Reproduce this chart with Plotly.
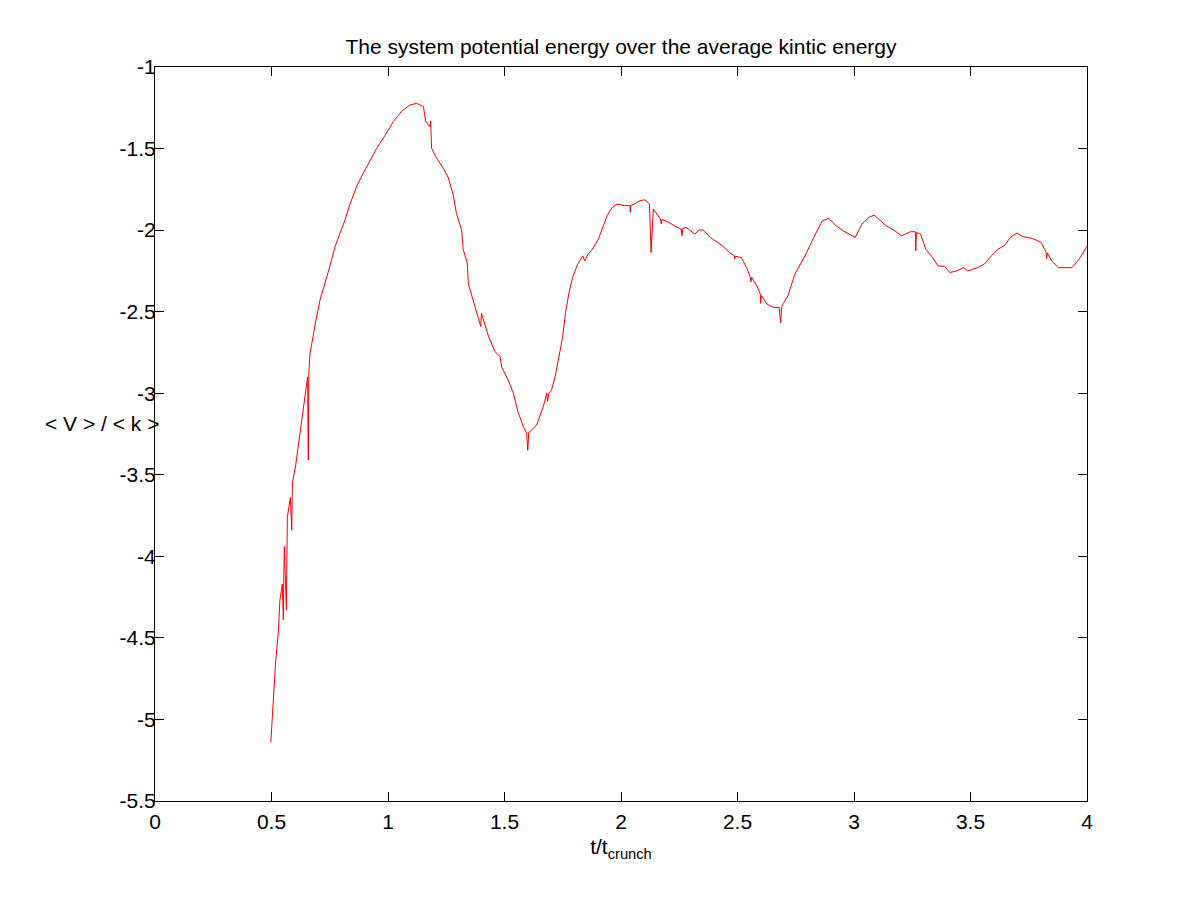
import plotly.graph_objects as go

# t / t_crunch
t = [0.497, 0.504, 0.512, 0.518, 0.529, 0.536, 0.546, 0.551, 0.553, 0.555,
     0.564, 0.566, 0.568, 0.581, 0.587, 0.589, 0.591, 0.604, 0.615, 0.625,
     0.637, 0.649, 0.655, 0.658, 0.660, 0.665, 0.677, 0.691, 0.708, 0.730,
     0.751, 0.773, 0.794, 0.815, 0.837, 0.866, 0.894, 0.923, 0.951, 0.987,
     1.023, 1.059, 1.094, 1.123, 1.152, 1.162, 1.180, 1.183, 1.187, 1.209,
     1.237, 1.259, 1.280, 1.294, 1.316, 1.323, 1.340, 1.345, 1.366, 1.388,
     1.398, 1.401, 1.431, 1.459, 1.481, 1.488, 1.516, 1.538, 1.559, 1.581,
     1.595, 1.600, 1.604, 1.609, 1.638, 1.667, 1.681, 1.685, 1.690, 1.702,
     1.717, 1.733, 1.749, 1.762, 1.777, 1.792, 1.814, 1.836, 1.844, 1.858,
     1.877, 1.903, 1.925, 1.940, 1.962, 1.984, 2.014, 2.039, 2.040, 2.041,
     2.058, 2.080, 2.102, 2.122, 2.129, 2.139, 2.169, 2.173, 2.176, 2.206,
     2.228, 2.258, 2.262, 2.265, 2.280, 2.317, 2.335, 2.354, 2.383, 2.406,
     2.435, 2.465, 2.487, 2.488, 2.490, 2.516, 2.539, 2.553, 2.558, 2.561,
     2.583, 2.598, 2.599, 2.602, 2.627, 2.657, 2.679, 2.685, 2.690, 2.694,
     2.716, 2.746, 2.790, 2.827, 2.864, 2.891, 2.923, 2.953, 2.982, 3.005,
     3.034, 3.064, 3.086, 3.116, 3.138, 3.175, 3.204, 3.241, 3.263, 3.265,
     3.268, 3.286, 3.308, 3.337, 3.360, 3.389, 3.411, 3.441, 3.470, 3.488,
     3.530, 3.559, 3.589, 3.618, 3.648, 3.670, 3.700, 3.722, 3.766, 3.803,
     3.825, 3.826, 3.830, 3.848, 3.877, 3.914, 3.936, 3.966, 4.003]

# < V > / < k >
ratio = [-5.14, -4.98, -4.80, -4.64, -4.47, -4.27, -4.17, -4.39, -4.10, -3.94,
         -4.33, -3.92, -3.76, -3.64, -3.84, -3.60, -3.54, -3.44, -3.32, -3.23,
         -3.08, -2.94, -2.90, -3.41, -2.88, -2.76, -2.65, -2.55, -2.43, -2.33,
         -2.22, -2.10, -2.02, -1.94, -1.84, -1.73, -1.65, -1.57, -1.50, -1.42,
         -1.335, -1.27, -1.233, -1.223, -1.243, -1.335, -1.366, -1.33, -1.498, -1.56,
         -1.62, -1.68, -1.785, -1.90, -2.00, -2.12, -2.20, -2.33, -2.43, -2.53,
         -2.59, -2.51, -2.65, -2.745, -2.776, -2.84, -2.92, -3.00, -3.12, -3.205,
         -3.245, -3.35, -3.24, -3.236, -3.195, -3.08, -3.00, -3.05, -3.00, -2.98,
         -2.90, -2.78, -2.66, -2.506, -2.383, -2.291, -2.209, -2.158, -2.189, -2.148,
         -2.117, -2.055, -1.973, -1.912, -1.861, -1.840, -1.850, -1.850, -1.891, -1.850,
         -1.840, -1.820, -1.814, -1.840, -2.137, -1.871, -1.932, -1.963, -1.935, -1.953,
         -1.973, -1.994, -2.035, -1.990, -1.984, -2.025, -1.998, -2.000, -2.045, -2.066,
         -2.096, -2.137, -2.158, -2.178, -2.160, -2.168, -2.230, -2.281, -2.318, -2.290,
         -2.342, -2.393, -2.449, -2.400, -2.455, -2.475, -2.475, -2.568, -2.470, -2.455,
         -2.404, -2.270, -2.158, -2.045, -1.943, -1.928, -1.973, -2.004, -2.025, -2.045,
         -1.963, -1.922, -1.908, -1.943, -1.973, -2.004, -2.035, -2.010, -2.010, -2.127,
         -2.015, -2.025, -2.117, -2.168, -2.219, -2.223, -2.260, -2.250, -2.230, -2.250,
         -2.230, -2.209, -2.158, -2.117, -2.092, -2.045, -2.018, -2.039, -2.051, -2.076,
         -2.137, -2.174, -2.140, -2.188, -2.230, -2.230, -2.230, -2.178, -2.092]

x_ticks = [0, 0.5, 1, 1.5, 2, 2.5, 3, 3.5, 4]
x_labels = ["0", "0.5", "1", "1.5", "2", "2.5", "3", "3.5", "4"]
y_ticks = [-1, -1.5, -2, -2.5, -3, -3.5, -4, -4.5, -5, -5.5]
y_labels = ["-1", "-1.5", "-2", "-2.5", "-3", "-3.5", "-4", "-4.5", "-5", "-5.5"]

font = "Liberation Sans, Arial, sans-serif"
fsize = 21

fig = go.Figure(go.Scatter(x=t, y=ratio, mode="lines",
                           line=dict(color="red", width=1)))

axis_style = dict(showline=True, linecolor="black", linewidth=1, mirror="ticks",
                  ticks="inside", ticklen=9, tickcolor="black", showgrid=False,
                  zeroline=False, tickfont=dict(family=font, size=fsize, color="black"))

fig.update_xaxes(range=[0, 4], tickvals=x_ticks, ticktext=x_labels,
                 ticklabelstandoff=2,
                 title=dict(text="t/t<sub>crunch</sub>",
                            font=dict(family=font, size=fsize, color="black"), standoff=7),
                 **axis_style)
fig.update_yaxes(range=[-5.5, -1], tickvals=y_ticks, ticktext=y_labels,
                 ticklabelstandoff=-6, **axis_style)

fig.add_annotation(text="&lt; V &gt; / &lt; k &gt;", xref="paper", yref="paper",
                   x=-0.057, y=0.514, xanchor="center", yanchor="middle",
                   showarrow=False, font=dict(family=font, size=fsize, color="black"))

# page adds an 8px body margin, so the margins are trimmed by 8px on the top/left
fig.update_layout(
    width=1201, height=901,
    margin=dict(l=147, r=122, t=59, b=108),
    title=dict(text="The system potential energy over the average kintic energy",
               x=0.5, xref="paper", y=0.957, yref="container", yanchor="middle",
               font=dict(family=font, size=fsize, color="black")),
    plot_bgcolor="white", paper_bgcolor="white",
    showlegend=False,
)

fig.write_html("out.html")
